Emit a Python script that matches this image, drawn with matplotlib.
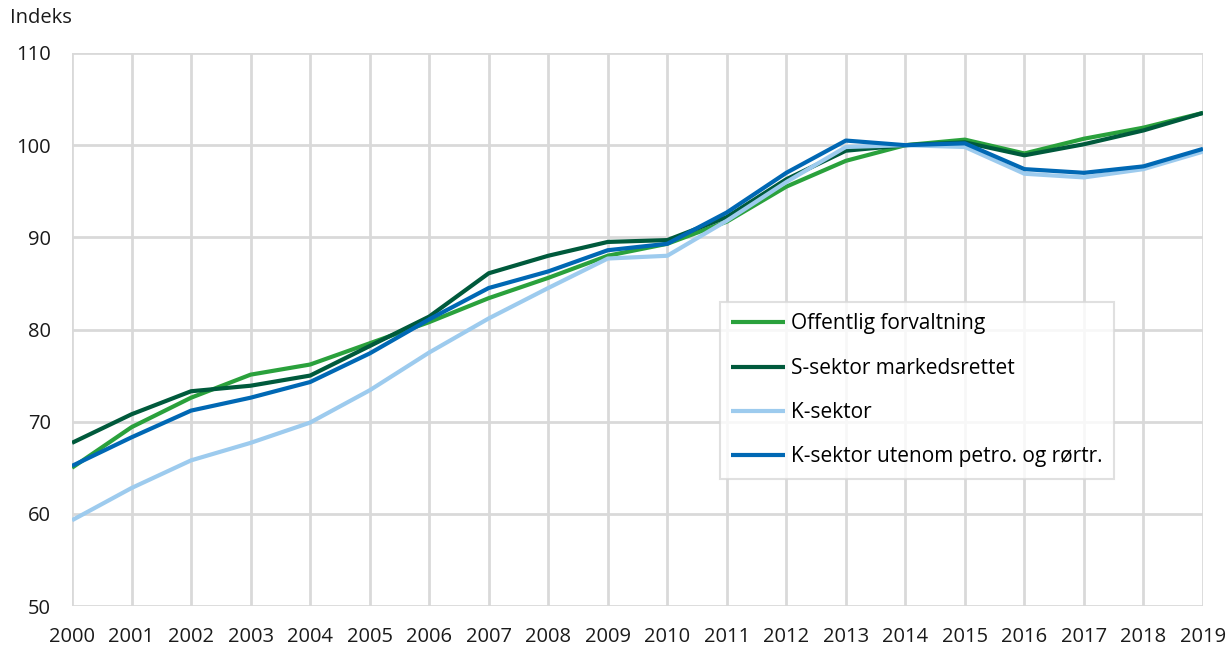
import matplotlib.pyplot as plt

# Data
years = list(range(2000, 2020))
offentlig = [65.0, 69.4, 72.6, 75.1, 76.2, 78.5, 80.8, 83.4, 85.6, 88.0,
             89.3, 91.7, 95.5, 98.3, 100.0, 100.6, 99.1, 100.7, 101.9, 103.5]
s_sektor = [67.7, 70.8, 73.3, 73.9, 75.0, 78.2, 81.4, 86.1, 88.0, 89.5,
            89.7, 92.2, 96.3, 99.4, 100.0, 100.3, 98.9, 100.1, 101.6, 103.5]
k_sektor = [59.3, 62.8, 65.8, 67.7, 69.9, 73.4, 77.5, 81.2, 84.5, 87.7,
            88.0, 91.8, 96.0, 99.8, 100.0, 99.8, 96.9, 96.5, 97.4, 99.3]
k_utenom = [65.2, 68.3, 71.2, 72.6, 74.3, 77.4, 81.1, 84.5, 86.3, 88.6,
            89.3, 92.7, 97.0, 100.5, 100.0, 100.2, 97.4, 97.0, 97.7, 99.6]

labels = ['Offentlig forvaltning', 'S-sektor markedsrettet', 'K-sektor',
          'K-sektor utenom petro. og rørtr.']
colors = ['#2aa13c', '#005a3c', '#9dcbee', '#0068b4']

plt.rcParams['font.family'] = ['Open Sans', 'DejaVu Sans']

fig = plt.figure(figsize=(12.31, 6.46), dpi=100)
ax = fig.add_axes([72 / 1231, 40 / 646, 1131 / 1231, 553 / 646])

for serie, lab, col in zip([offentlig, s_sektor, k_sektor, k_utenom], labels, colors):
    ax.plot(years, serie, color=col, linewidth=3, label=lab, solid_capstyle='butt')

ax.set_xlim(2000, 2019)
ax.set_ylim(50, 110)
ax.set_xticks(years)
ax.set_yticks(range(50, 111, 10))
ax.tick_params(axis='both', length=0, labelsize=14.5, colors='#1a1a1a')
ax.tick_params(axis='y', pad=15)
ax.tick_params(axis='x', pad=15)
ax.grid(True, color='#d9d9d9', linewidth=2)
ax.set_axisbelow(True)
for s in ax.spines.values():
    s.set_visible(False)

fig.text(10 / 1231, 1 - 18 / 646, 'Indeks', fontsize=14.5, color='#1a1a1a', va='center')

leg = ax.legend(loc='upper left', bbox_to_anchor=((720 - 72) / 1131, (606 - 302) / 553),
                fontsize=15, frameon=True, fancybox=False, handlelength=2.55,
                labelspacing=1.12, borderpad=0.55, handletextpad=0.3, borderaxespad=0)
leg.get_frame().set_edgecolor('#d9d9d9')
leg.get_frame().set_linewidth(1.5)

fig.savefig('out.png', dpi=100)
